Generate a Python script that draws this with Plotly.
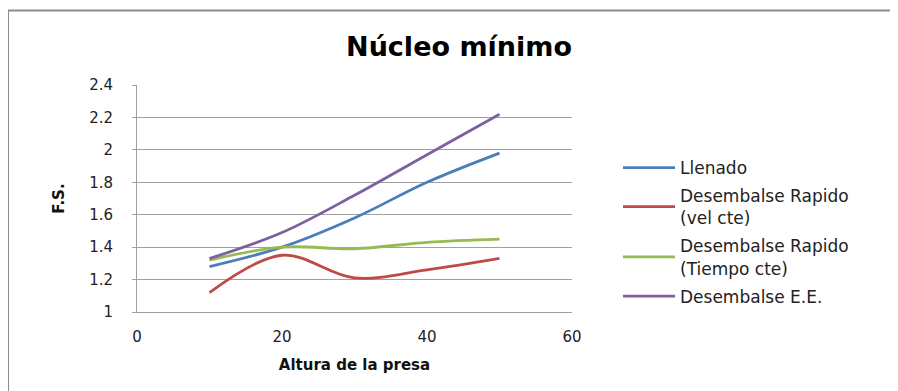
import plotly.graph_objects as go

x_vals = [10, 20, 30, 40, 50]
llenado = [1.28, 1.40, 1.58, 1.80, 1.98]
des_vel = [1.12, 1.35, 1.21, 1.26, 1.33]
des_tiempo = [1.32, 1.40, 1.39, 1.43, 1.45]
des_ee = [1.33, 1.49, 1.72, 1.97, 2.22]

names = ["Llenado", "Desembalse Rapido<br>(vel cte)", "Desembalse Rapido<br>(Tiempo cte)", "Desembalse E.E."]
colors = ["#4A7EBB", "#BE4B48", "#98B954", "#7D60A0"]
series = [llenado, des_vel, des_tiempo, des_ee]

FONT = "DejaVu Sans, sans-serif"

fig = go.Figure()
for i, (nm, ys, c) in enumerate(zip(names, series, colors)):
    fig.add_trace(go.Scatter(
        x=x_vals, y=ys, name=nm, mode="lines",
        line=dict(color=c, width=2.8, shape="spline", smoothing=1.0),
        legendgroup=f"g{i}",
    ))

OFF = 8  # page body margin
W, H = 898 - OFF, 391 - OFF
L, R, T, B = 137 - OFF, 572 - OFF, 85 - OFF, 312 - OFF
pw, ph = R - L, B - T

def px(xs):
    return (xs - OFF - L) / pw

def py(ys):
    return (B - (ys - OFF)) / ph

fig.update_layout(
    width=W, height=H,
    margin=dict(l=L, r=W - R, t=T, b=H - B, pad=0, autoexpand=False),
    paper_bgcolor="white", plot_bgcolor="white",
    font=dict(family=FONT, size=14, color="#222"),
    title=dict(text="<b>Núcleo mínimo</b>", x=(459 - OFF) / W, xanchor="center",
               y=1 - (47 - OFF) / H, yanchor="middle",
               font=dict(family=FONT, size=27, color="black")),
    xaxis=dict(range=[0, 60], tickvals=[0, 20, 40, 60], showgrid=False,
               showline=True, linecolor="#A0A0A0", linewidth=1,
               ticks="", zeroline=False, automargin=False,
               ticklabelstandoff=11,
               tickfont=dict(size=15, color="#222"),
               title=dict(text="<b>Altura de la presa</b>", standoff=14,
                          font=dict(size=15, color="#111"))),
    yaxis=dict(range=[1, 2.4], tickvals=[1, 1.2, 1.4, 1.6, 1.8, 2, 2.2, 2.4],
               ticktext=["1", "1.2", "1.4", "1.6", "1.8", "2", "2.2", "2.4"],
               showgrid=True, gridcolor="#A0A0A0", gridwidth=1,
               showline=True, linecolor="#A0A0A0", linewidth=1,
               ticks="outside", ticklen=4, tickcolor="#A0A0A0",
               zeroline=False, automargin=False, ticklabelstandoff=16,
               tickfont=dict(size=15, color="#222"),
               title=dict(text="<b>F.S.</b>", standoff=20,
                          font=dict(size=15, color="#111"))),
    legend=dict(x=px(618), xanchor="left", y=py(150), yanchor="top",
                font=dict(family=FONT, size=17, color="#222"),
                traceorder="grouped", tracegroupgap=3, itemwidth=52,
                bgcolor="rgba(0,0,0,0)"),
    showlegend=True,
)

# chart outer border (top and left visible)
fig.add_shape(type="rect", xref="paper", yref="paper",
              x0=px(8), x1=px(1000), y0=py(10.5), y1=py(500),
              line=dict(color="#8C8C8C", width=2), layer="below")

fig.write_html("out.html")
